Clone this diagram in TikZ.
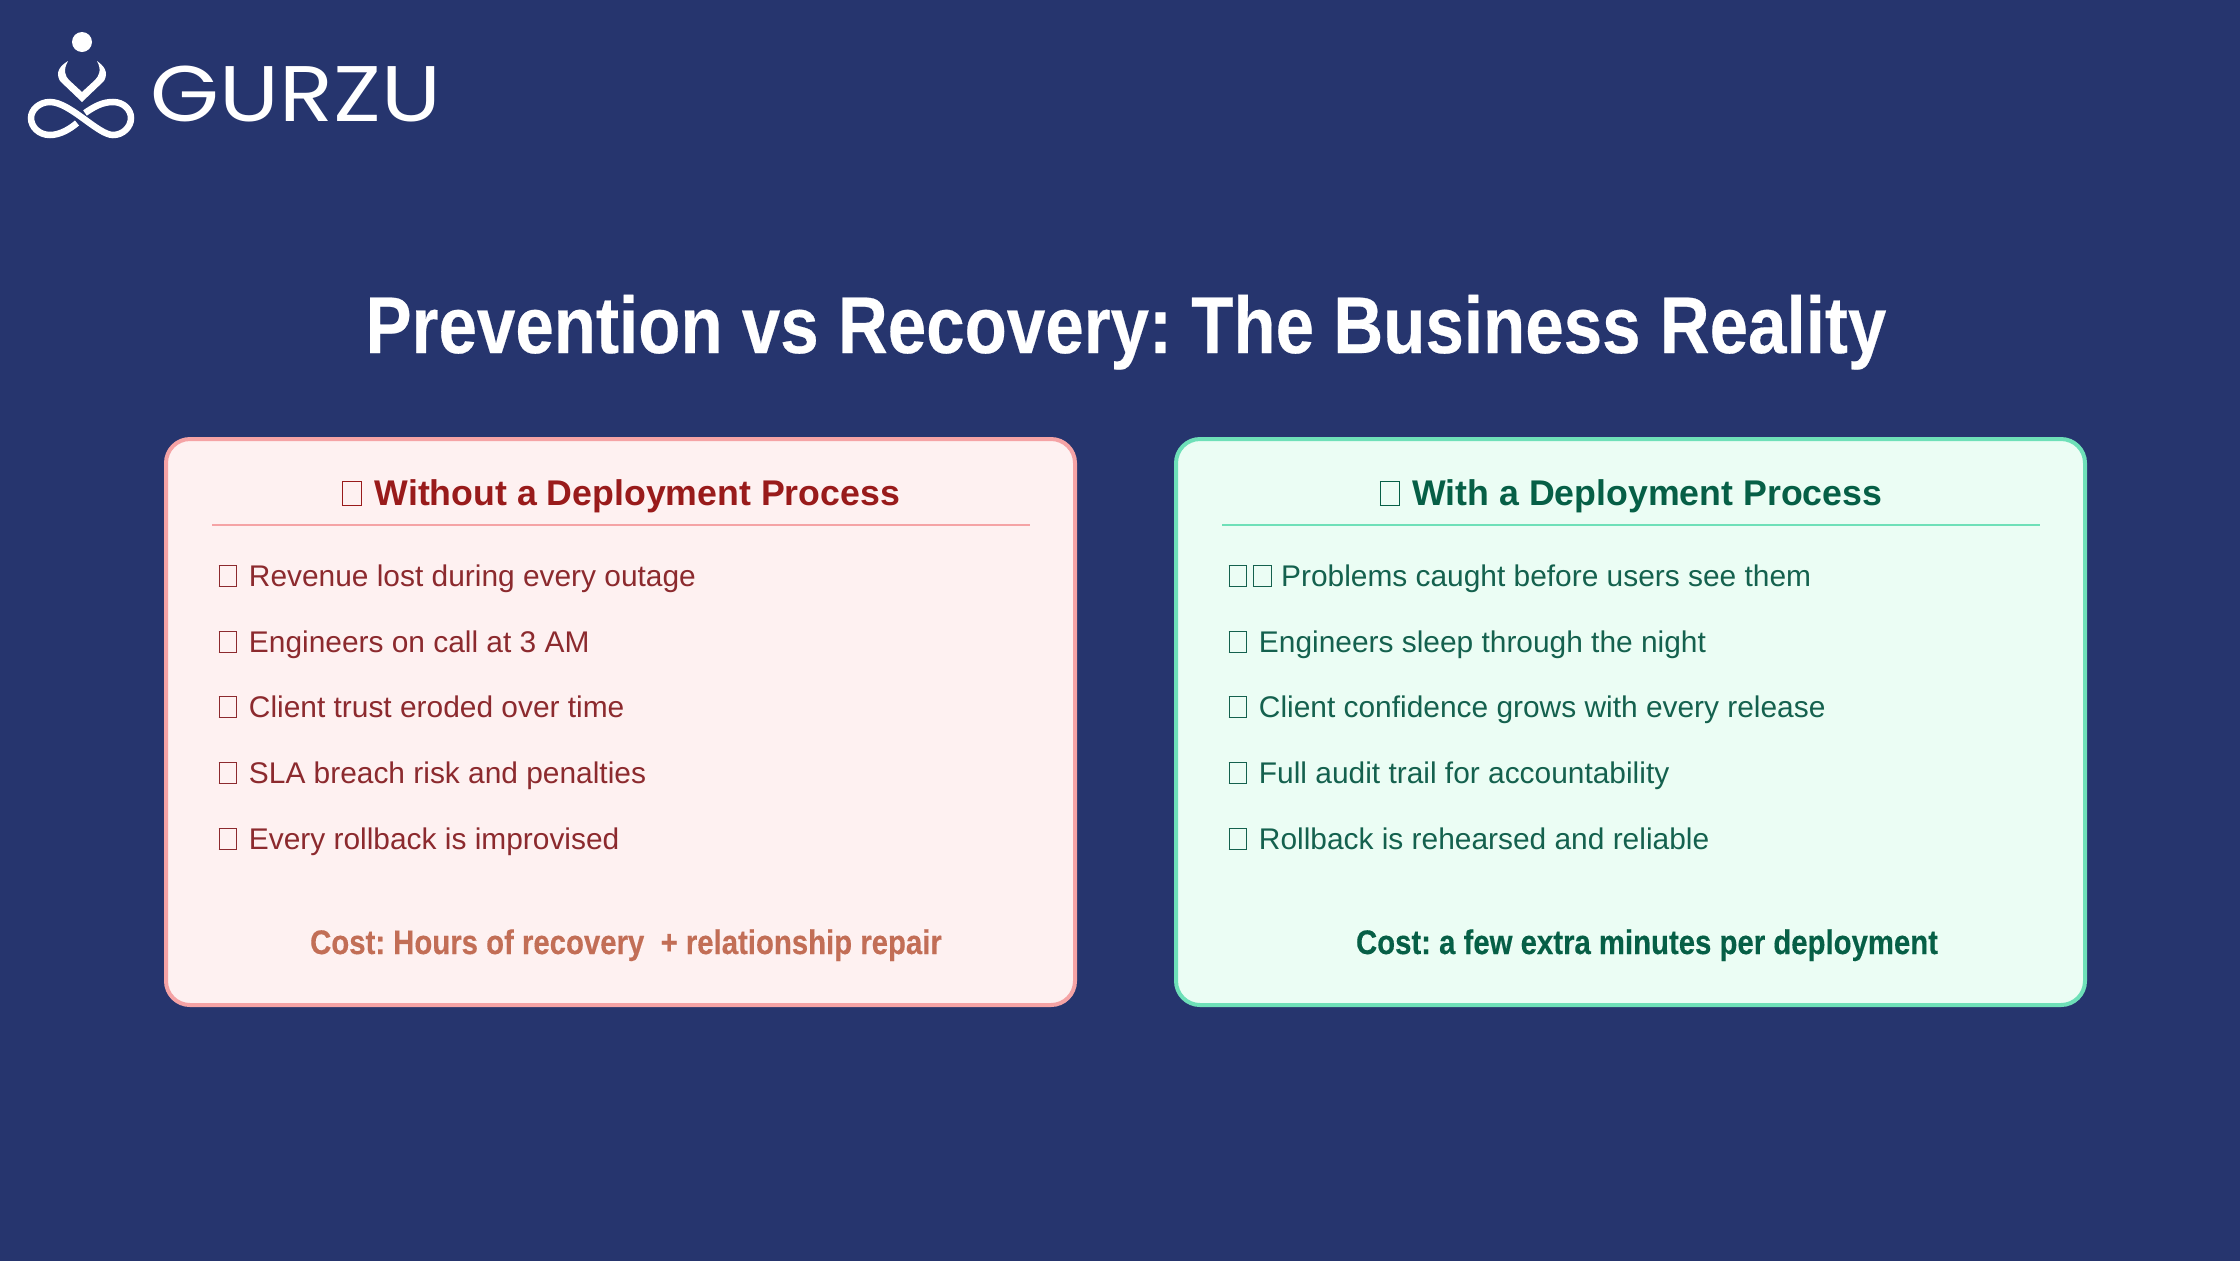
\documentclass[tikz,border=0pt]{standalone}
\usepackage{fontspec}
\setmainfont{Liberation Sans}
\newfontfamily\narrowfont[FakeStretch=0.86, BoldFeatures={FakeBold=0.3}]{Liberation Sans}
\newfontfamily\logofont[FakeStretch=1.125]{Poppins}
\definecolor{pagebg}{HTML}{26356E}
\definecolor{badfill}{HTML}{FEF1F1}
\definecolor{badedge}{HTML}{F5A3A5}
\definecolor{badhead}{HTML}{991B1B}
\definecolor{badtext}{HTML}{8C2A2E}
\definecolor{badcost}{HTML}{C26E56}
\definecolor{goodfill}{HTML}{EBFDF4}
\definecolor{goodedge}{HTML}{6EE0B8}
\definecolor{goodhead}{HTML}{065F46}
\definecolor{goodtext}{HTML}{14614E}
\newcommand{\tofu}[2]{{\setlength{\fboxsep}{0pt}\setlength{\fboxrule}{0.3pt}\fbox{\rule{#1}{0pt}\rule{0pt}{#2}}}}
\newcommand{\headbox}{\tofu{5.1pt}{6.5pt}\hspace{3.6pt}}
\newcommand{\itembox}{\tofu{4.7pt}{5.7pt}}
\frenchspacing
\tikzset{
  card/.style={line width=0.04cm, rounded corners=0.24cm},
  headtext/.style={anchor=base, inner sep=0pt, font=\fontsize{10.15}{12}\selectfont\bfseries},
  itemtext/.style={anchor=base west, inner sep=0pt, font=\fontsize{8.5}{11}\selectfont},
  costtext/.style={anchor=base, inner sep=0pt, font=\fontsize{9.7}{12}\selectfont\narrowfont\bfseries},
}
\begin{document}
\begin{tikzpicture}[x=0.01cm, y=-0.01cm]
\useasboundingbox (0, 0) rectangle (2240, 1260);
\fill [pagebg] (-5, -5) rectangle (2245, 1265);

%%%%%%%%%%%%%%%%%%%%%%%%%%%%%%%%%%%%%%%%

\fill [white] (82, 42) circle (10);
\fill [white] (68, 61)
  .. controls (60, 66) and (55, 72) .. (60, 81)
  -- (82, 102)
  -- (104, 81)
  .. controls (109, 72) and (104, 66) .. (97, 61)
  .. controls (102, 70) and (99, 76) .. (95, 80)
  -- (82, 92)
  -- (69, 80)
  .. controls (65, 76) and (63, 70) .. (68, 61)
  -- cycle;
\draw [white, line width=0.065cm]
     (85, 113)
  .. controls (95, 106) and (103, 102) .. (113, 102)
  .. controls (124, 102) and (131, 110) .. (131, 118)
  .. controls (131, 127) and (123, 135) .. (113, 135)
  .. controls (98, 135) and (70, 102) .. (50, 102)
  .. controls (39, 102) and (31, 110) .. (31, 118)
  .. controls (31, 127) and (39, 135) .. (50, 135)
  .. controls (60, 135) and (70, 129) .. (77, 123);
\node (logo) [anchor=base west, inner sep=0pt, text=white, font=\fontsize{22.4}{24}\selectfont\logofont] at (150, 121) {GURZU};

\node (title) [anchor=base, inner sep=0pt, text=white, font=\fontsize{22.85}{24}\selectfont\narrowfont\bfseries] at (1126, 353) {Prevention vs Recovery: The Business Reality};

%%%%%%%%%%%%%%%%%%%%%%%%%%%%%%%%%%%%%%%%

\draw [card, draw=badedge, fill=badfill] (166, 439) rectangle (1075, 1005);
\node (badtitle) [headtext, text=badhead] at (621, 505) {\headbox Without a Deployment Process};
\draw [badedge, line width=0.02cm] (212, 525) -- (1030, 525);
\node (bad1) [itemtext, text=badtext] at (218, 586) {\itembox\hspace{3.3pt}Revenue lost during every outage};
\node (bad2) [itemtext, text=badtext] at (218, 652) {\itembox\hspace{3.3pt}Engineers on call at 3 AM};
\node (bad3) [itemtext, text=badtext] at (218, 717) {\itembox\hspace{3.3pt}Client trust eroded over time};
\node (bad4) [itemtext, text=badtext] at (218, 783) {\itembox\hspace{3.3pt}SLA breach risk and penalties};
\node (bad5) [itemtext, text=badtext] at (218, 849) {\itembox\hspace{3.3pt}Every rollback is improvised};
\node (badcost) [costtext, text=badcost] at (626, 954) {Cost: Hours of recovery \ + relationship repair};

\draw [card, draw=goodedge, fill=goodfill] (1176, 439) rectangle (2085, 1005);
\node (goodtitle) [headtext, text=goodhead] at (1631, 505) {\headbox With a Deployment Process};
\draw [goodedge, line width=0.02cm] (1222, 525) -- (2040, 525);
\node (good1) [itemtext, text=goodtext] at (1228, 586) {\itembox\hspace{1.6pt}\itembox\hspace{2.7pt}Problems caught before users see them};
\node (good2) [itemtext, text=goodtext] at (1228, 652) {\itembox\hspace{3.3pt}Engineers sleep through the night};
\node (good3) [itemtext, text=goodtext] at (1228, 717) {\itembox\hspace{3.3pt}Client confidence grows with every release};
\node (good4) [itemtext, text=goodtext] at (1228, 783) {\itembox\hspace{3.3pt}Full audit trail for accountability};
\node (good5) [itemtext, text=goodtext] at (1228, 849) {\itembox\hspace{3.3pt}Rollback is rehearsed and reliable};
\node (goodcost) [costtext, text=goodhead] at (1647, 954) {Cost: a few extra minutes per deployment};
\end{tikzpicture}
\end{document}
